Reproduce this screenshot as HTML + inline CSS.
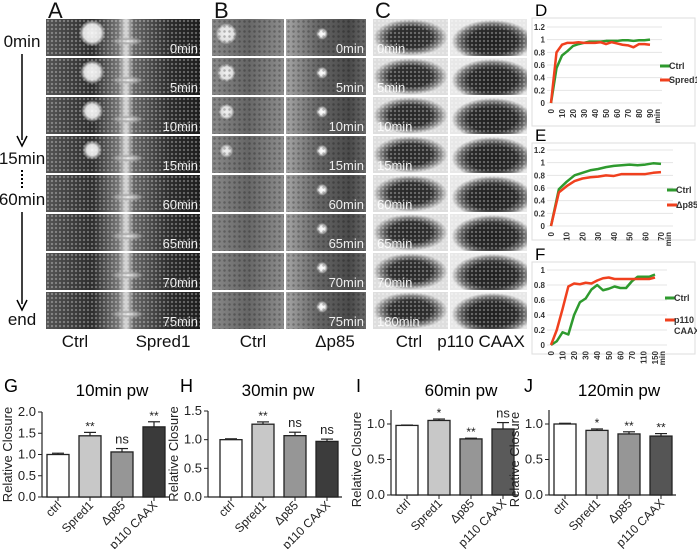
<!DOCTYPE html>
<html><head><meta charset="utf-8">
<style>
body{margin:0;background:#fff;width:697px;height:549px;overflow:hidden;position:relative;font-family:"Liberation Sans",sans-serif}
.img{position:absolute;overflow:hidden}
.tex{position:absolute;left:0;top:0;right:0;bottom:0;background-image:radial-gradient(circle, rgba(255,255,255,.33) 0.8px, transparent 1.4px);background-size:4px 4px}
.tex2{position:absolute;left:0;top:0;right:0;bottom:0;background-image:radial-gradient(circle, rgba(0,0,0,.25) 0.9px, transparent 1.6px);background-size:5px 5px}
.ts{position:absolute;color:#fff;font-size:13px;bottom:0px;opacity:.9}
.lab{position:absolute;font-size:17px;color:#111}
.cap{position:absolute;font-size:17px;color:#111;transform:translateX(-50%)}
</style></head>
<body>
<div id="imgs"></div>
<div class="lab" style="left:48px;top:-2px;font-size:22px">A</div>
<div class="lab" style="left:214px;top:-2px;font-size:22px">B</div>
<div class="lab" style="left:375px;top:-2px;font-size:22px">C</div>
<div class="cap" style="left:22px;top:32px">0min</div>
<div class="cap" style="left:22px;top:149px">15min</div>
<div class="cap" style="left:22px;top:190px">60min</div>
<div class="cap" style="left:22px;top:310px">end</div>
<div class="cap" style="left:75px;top:332px">Ctrl</div>
<div class="cap" style="left:163px;top:332px">Spred1</div>
<div class="cap" style="left:253px;top:332px">Ctrl</div>
<div class="cap" style="left:335px;top:332px">Δp85</div>
<div class="cap" style="left:409px;top:332px">Ctrl</div>
<div class="cap" style="left:481px;top:332px">p110 CAAX</div>
<svg id="svg" width="697" height="549" style="position:absolute;left:0;top:0">
 <g>
  <line x1="22" y1="54" x2="22" y2="140" stroke="#000" stroke-width="1.5"/>
  <path d="M17,136 L22,146 L27,136" fill="none" stroke="#000" stroke-width="1.5"/>
  <line x1="22" y1="170" x2="22" y2="190" stroke="#000" stroke-width="2" stroke-dasharray="2,2"/>
  <line x1="22" y1="212" x2="22" y2="304" stroke="#000" stroke-width="1.5"/>
  <path d="M17,300 L22,310 L27,300" fill="none" stroke="#000" stroke-width="1.5"/>
 </g>
</svg>
<script>
// ---- micrographs ----
const rowTimesAB=['0min','5min','10min','15min','60min','65min','70min','75min'];
const rowTimesC=['0min','5min','10min','15min','60min','65min','70min','180min'];
const imgs=document.getElementById('imgs');
function panel(x,w,y,h,bg,name,tex){const d=document.createElement('div');d.className='img';d.style.cssText=`left:${x}px;top:${y}px;width:${w}px;height:${h}px;background:${bg}`;


if(tex){const t=document.createElement('div');t.className=tex;d.appendChild(t);}
imgs.appendChild(d);return d;}
for(let r=0;r<8;r++){
 const y=19+r*39,h=37;
 const spot=r<4?`radial-gradient(circle at 30% 38%, #eee 0, #ddd ${8-r}%, transparent ${12-r}%),`:'';
 const a=panel(46,154,y,h,spot+`radial-gradient(ellipse at 53% 60%, #eee 0, #aaa 6%, transparent 14%),linear-gradient(90deg,#555 0%,#2c2c2c 30%,#777 47%,#d8d8d8 52%,#666 57%,#2c2c2c 80%,#1c1c1c 100%)`,'micrograph-a-'+r,'tex');
 const ta=document.createElement('div');ta.className='ts';ta.style.right='2px';ta.textContent=rowTimesAB[r];a.appendChild(ta);
 const bspot=r<4?`radial-gradient(circle at 20% 40%, #f0f0f0 0, #e0e0e0 ${12-2*r}%, transparent ${17-2*r}%),`:'';
 panel(212,72,y,h,bspot+`linear-gradient(90deg,#8a8a8a,#666 50%,#8e8e8e)`,'micrograph-b-left-'+r,'tex2');
 const b=panel(286,80,y,h,`radial-gradient(circle at 45% 40%, #fff 0, #eee 6%, transparent 12%),linear-gradient(90deg,#a5a5a5,#666 40%,#4a4a4a 80%,#6a6a6a)`,'micrograph-b-right-'+r,'tex2');
 const tb=document.createElement('div');tb.className='ts';tb.style.right='2px';tb.textContent=rowTimesAB[r];b.appendChild(tb);
 const c=panel(373,75,y,h,`radial-gradient(ellipse at 50% 50%, #262626 0, #303030 40%, #7a7a7a 55%, #dedede 70%)`,'micrograph-c-left-'+r,'tex');
 const tc=document.createElement('div');tc.className='ts';tc.style.left='4px';tc.textContent=rowTimesC[r];c.appendChild(tc);
 panel(450,77,y,h,`radial-gradient(ellipse at 55% 60%, #1e1e1e 0, #2a2a2a 40%, #707070 55%, #e8e8e8 68%)`,'micrograph-c-right-'+r,'tex');
}
// ---- line chart data ----
const dCats=['0','','10','','20','','30','','40','','50','','60','','70','','80','','90'];
const dCtrl=[0,0.55,0.75,0.82,0.9,0.93,0.95,0.97,0.97,0.97,0.98,0.98,0.98,0.99,0.99,0.98,0.99,0.99,1.0];
const dSpred=[0,0.8,0.92,0.95,0.95,0.96,0.95,0.95,0.95,0.96,0.93,0.96,0.94,0.92,0.91,0.88,0.93,0.93,0.92];
const eCats=['0','','10','','20','','30','','40','','50','','60','','70'];
const eCtrl=[0,0.58,0.7,0.8,0.84,0.88,0.9,0.93,0.95,0.96,0.97,0.96,0.97,0.99,0.98];
const eDp85=[0,0.53,0.63,0.71,0.75,0.77,0.78,0.8,0.79,0.82,0.82,0.82,0.82,0.84,0.85];
const fCats=['0','','10','','20','','30','','40','','50','','60','','70','','110','','150'];
const fCtrl=[0,0.05,0.17,0.14,0.4,0.57,0.62,0.74,0.8,0.73,0.75,0.78,0.76,0.76,0.85,0.91,0.91,0.91,0.94];
const fP110=[0,0.2,0.48,0.78,0.82,0.81,0.83,0.82,0.86,0.89,0.9,0.88,0.88,0.88,0.88,0.88,0.88,0.88,0.9];
const dTicks=[0,0.2,0.4,0.6,0.8,1,1.2];
const fTicks=[0,0.2,0.4,0.6,0.8,1];
// ---- bar chart data ----
const barCats=['ctrl','Spred1','Δp85','p110 CAAX'];
const gVals=[1.0,1.44,1.06,1.65], gErr=[0.03,0.08,0.08,0.12], gSig=['','**','ns','**'];
const hVals=[1.0,1.27,1.07,0.97], hErr=[0.015,0.04,0.06,0.04], hSig=['','**','ns','ns'];
const iVals=[0.98,1.05,0.79,0.93], iErr=[0.005,0.02,0.01,0.09], iSig=['','*','**','ns'];
const jVals=[1.0,0.91,0.86,0.83], jErr=[0.01,0.02,0.03,0.035], jSig=['','*','**','**'];
const gTicks=['0.0','0.5','1.0','1.5','2.0'];
const hTicks=['0.0','0.5','1.0','1.5'];
const ijTicks=['0.0','0.5','1.0'];

const NS='http://www.w3.org/2000/svg', svg=document.getElementById('svg');
function el(tag,attrs,parent,text){const e=document.createElementNS(NS,tag);for(const k in attrs)e.setAttribute(k,attrs[k]);if(text!==undefined)e.textContent=text;(parent||svg).appendChild(e);return e;}

function lineChart(o){
 const g=el('g',{});
 
 
 el('rect',{x:o.fx,y:o.fy,width:o.fw,height:o.fh,fill:'#fff',stroke:'#ddd'},g);
 el('text',{x:o.fx+3,y:o.fy-2,'font-size':17},g,o.letter);
 const n=o.cats.length;
 const X=i=>o.x0+i*(o.x1-o.x0)/(n-1);
 const Y=v=>o.y0-(v/o.ymax)*(o.y0-o.ytop);
 o.ticks.forEach(t=>{
  el('line',{x1:o.x0-4,x2:o.x1+12,y1:Y(t),y2:Y(t),stroke:'#e4e4e4'},g);
  el('text',{x:o.x0-6,y:Y(t)+3,'font-size':8,'font-weight':'bold','text-anchor':'end',fill:'#333'},g,String(t));
 });
 o.cats.forEach((c,i)=>{ if(c){el('text',{x:0,y:0,'font-size':8,'font-weight':'bold','text-anchor':'end',fill:'#333',transform:`translate(${X(i)+3},${o.y0+6}) rotate(-90)`},g,c);} });
 el('text',{x:0,y:0,'font-size':8,'font-weight':'bold','text-anchor':'end',fill:'#333',transform:`translate(${X(n-1)+10},${o.y0+6}) rotate(-90)`},g,'min');
 o.series.forEach(s=>{
  const p=el('polyline',{points:s.vals.map((v,i)=>X(i)+','+Y(v)).join(' '),fill:'none',stroke:s.color,'stroke-width':2.5,'stroke-linejoin':'round'},g);
  
  
  const lg=el('g',{},g);
  
  
  el('line',{x1:o.lx,x2:o.lx+10,y1:s.ly,y2:s.ly,stroke:s.color,'stroke-width':3},lg);
  s.label.forEach((t,k)=>el('text',{x:o.lx+9,y:s.ly+3+k*11,'font-size':9,'font-weight':'bold',fill:'#333'},lg,t));
 });
}
lineChart({name:'chart-d',letter:'D',fx:532,fy:18,fw:163,fh:108,x0:551,x1:650,y0:103,ytop:27,ymax:1.2,ticks:dTicks,cats:dCats,lx:660,
 series:[{vals:dCtrl,color:'#2e9a2e',label:['Ctrl'],ly:66,sname:'ctrl-line-d'},{vals:dSpred,color:'#f0401e',label:['Spred1'],ly:80,sname:'spred1-line'}]});
lineChart({name:'chart-e',letter:'E',fx:532,fy:143,fw:163,fh:97,x0:551,x1:661,y0:226,ytop:150,ymax:1.2,ticks:dTicks,cats:eCats,lx:667,
 series:[{vals:eCtrl,color:'#2e9a2e',label:['Ctrl'],ly:190,sname:'ctrl-line-e'},{vals:eDp85,color:'#f0401e',label:['Δp85'],ly:205,sname:'dp85-line'}]});
lineChart({name:'chart-f',letter:'F',fx:532,fy:262,fw:163,fh:92,x0:551,x1:655,y0:345,ytop:270,ymax:1,ticks:fTicks,cats:fCats,lx:665,
 series:[{vals:fCtrl,color:'#2e9a2e',label:['Ctrl'],ly:298,sname:'ctrl-line-f'},{vals:fP110,color:'#f0401e',label:['p110','CAAX'],ly:320,sname:'p110-line'}]});

const fills=[['#fff','#c8c8c8','#969696','#3a3a3a'],['#fff','#c8c8c8','#969696','#3c3c3c'],['#fff','#c8c8c8','#969696','#5a5a5a'],['#fff','#c8c8c8','#969696','#555']];
function barChart(o){
 const g=el('g',{});
 
 
 el('text',{x:o.lx,y:392,'font-size':18},g,o.letter);
 el('text',{x:o.ax+70,y:396,'font-size':17,'text-anchor':'middle'},g,o.title);
 const Y=v=>o.y0-(v/o.ymax)*(o.y0-o.ytop);
 el('line',{x1:o.ax,x2:o.ax,y1:o.y0,y2:o.ytop-(o.extra||0),stroke:'#222','stroke-width':1.2},g);
 o.ticks.forEach(t=>{const v=parseFloat(t);el('line',{x1:o.ax-4,x2:o.ax,y1:Y(v),y2:Y(v),stroke:'#222'},g);
  el('text',{x:o.ax-6,y:Y(v)+4,'font-size':13,'text-anchor':'end',fill:'#222'},g,t);});
 el('text',{x:0,y:0,'font-size':13,'text-anchor':'middle',fill:'#222',transform:`translate(${o.ax-30},${(o.y0+o.ytop)/2}) rotate(-90)`},g,'Relative Closure');
 const bw=22,pitch=32;
 el('line',{x1:o.ax,x2:o.bx+3*pitch+bw+4,y1:o.y0,y2:o.y0,stroke:'#222','stroke-width':1.2},g);
 o.vals.forEach((v,i)=>{
  const x=o.bx+i*pitch,cx=x+bw/2;
  const r=el('rect',{x:x,y:Y(v),width:bw,height:o.y0-Y(v),fill:fills[o.fi][i],stroke:'#222','stroke-width':1.3},g);
  
  
  const et=Y(v+o.err[i]);
  el('line',{x1:cx,x2:cx,y1:Y(v),y2:et,stroke:'#222','stroke-width':1.2},g);
  el('line',{x1:cx-6,x2:cx+6,y1:et,y2:et,stroke:'#222','stroke-width':1.2},g);
  if(o.sig[i])el('text',{x:cx,y:et-(o.sig[i]==='ns'?5:2),'font-size':o.sig[i]==='ns'?13:12,'text-anchor':'middle',fill:'#222'},g,o.sig[i]);
  el('line',{x1:cx,x2:cx,y1:o.y0,y2:o.y0+4,stroke:'#222'},g);
  el('text',{x:0,y:0,'font-size':12,'text-anchor':'end',fill:'#222',transform:`translate(${cx+4},${o.y0+9}) rotate(-45)`},g,barCats[i]);
 });
}
barChart({name:'chart-g',letter:'G',title:'10min pw',lx:4,ax:42,bx:47,y0:497,ytop:412,ymax:2.0,ticks:gTicks,vals:gVals,err:gErr,sig:gSig,fi:0});
barChart({name:'chart-h',letter:'H',title:'30min pw',lx:180,ax:208,bx:220,y0:497,ytop:411,ymax:1.5,ticks:hTicks,vals:hVals,err:hErr,sig:hSig,fi:1});
barChart({name:'chart-i',letter:'I',title:'60min pw',lx:356,ax:391,bx:396,y0:495,ytop:424,ymax:1.0,extra:14,ticks:ijTicks,vals:iVals,err:iErr,sig:iSig,fi:2});
barChart({name:'chart-j',letter:'J',title:'120min pw',lx:524,ax:549,bx:554,y0:495,ytop:424,ymax:1.0,extra:14,ticks:ijTicks,vals:jVals,err:jErr,sig:jSig,fi:3});
</script>
</body></html>
